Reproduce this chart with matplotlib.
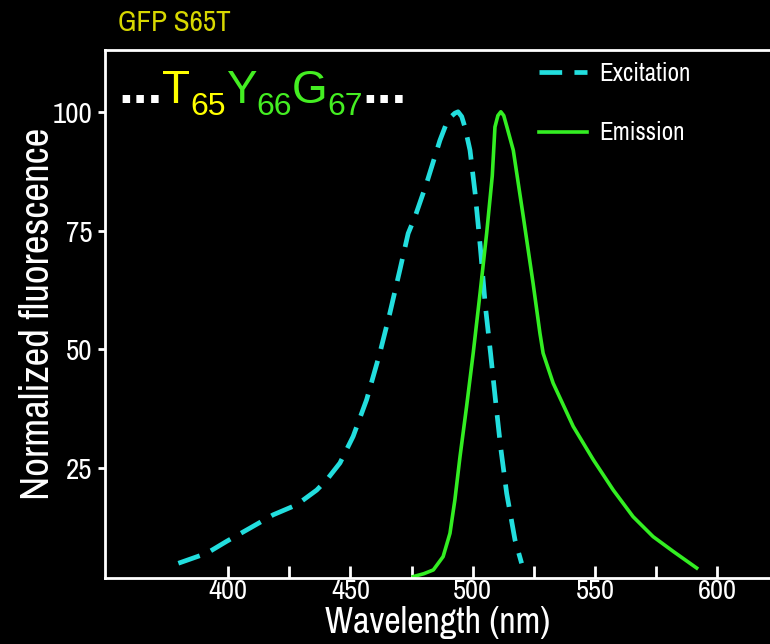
import matplotlib
matplotlib.use("Agg")
import matplotlib.pyplot as plt

NARROW = ["Archivo Narrow", "Roboto Condensed", "Liberation Sans"]
plt.rcParams["font.family"] = NARROW

# GFP S65T spectra, normalized to 100
ex_wl = [379.6, 391.2, 399.3, 408.9, 418.4, 428.0, 436.2, 440.2, 445.7, 451.1,
         456.6, 462.0, 466.1, 470.2, 473.6, 476.4, 481.1, 486.6, 489.3, 491.0,
         492.7, 494.0, 495.5, 496.8, 498.9, 501.0, 503.1, 505.2, 507.3, 509.3,
         511.4, 513.9, 517.3, 520.0]
ex_val = [5.0, 7.1, 9.6, 12.4, 15.2, 17.3, 20.4, 22.5, 26.1, 31.7,
          39.4, 49.2, 57.6, 66.7, 74.4, 77.9, 84.9, 94.0, 97.6, 98.9,
          99.7, 100.0, 99.0, 96.8, 91.9, 82.8, 71.6, 59.0, 49.2, 39.4,
          29.5, 19.7, 9.9, 5.0]

em_wl = [475.7, 480.0, 483.9, 487.9, 490.7, 492.7, 494.8, 497.5, 500.2, 503.0,
         505.7, 508.0, 509.1, 510.3, 511.5, 512.7, 514.0, 516.6, 520.7, 524.7,
         527.5, 528.8, 532.9, 541.1, 549.3, 557.5, 565.6, 573.8, 582.0, 591.6]
em_val = [2.2, 2.8, 3.6, 6.4, 11.3, 18.3, 27.4, 38.0, 49.2, 61.8,
          74.4, 86.5, 96.8, 99.2, 100.0, 99.2, 96.8, 91.9, 77.9, 63.9,
          53.4, 49.2, 42.9, 33.8, 26.8, 20.4, 14.8, 10.6, 7.5, 4.0]

x_ticks = [400, 425, 450, 475, 500, 525, 550, 575, 600]
x_labels = ["400", "", "450", "", "500", "", "550", "", "600"]
y_ticks = [25, 50, 75, 100]

# chromophore tripeptide: (text, colour, size, is_subscript)
seq_parts = [("...", "white", 38, False),
             ("T", "#ffff00", 33, False), ("65", "#ffff00", 23, True),
             ("Y", "#44ee22", 33, False), ("66", "#44ee22", 23, True),
             ("G", "#44ee22", 33, False), ("67", "#44ee22", 23, True),
             ("...", "white", 38, False)]

fig = plt.figure(figsize=(7.7, 6.44), dpi=100, facecolor="black")
ax = fig.add_axes([105 / 770, 1 - 578 / 644, 1 - 105 / 770, (578 - 50) / 644])
ax.set_facecolor("black")

ax.plot(ex_wl, ex_val, color="#22dede", lw=3.4, ls=(0, (4.8, 2.6)), label="Excitation")
ax.plot(em_wl, em_val, color="#33ee22", lw=2.6, label="Emission")

ax.set_xlim(349.6, 621.6)
ax.set_ylim(1.9, 113.0)

for side in ["left", "bottom", "top"]:
    ax.spines[side].set_color("white")
    ax.spines[side].set_linewidth(2)
ax.spines["right"].set_visible(False)

ax.set_xticks(x_ticks)
ax.set_xticklabels(x_labels)
ax.set_yticks(y_ticks)
ax.tick_params(axis="x", direction="in", length=9, width=2, color="white",
               labelcolor="white", labelsize=20.5, pad=1)
ax.tick_params(axis="y", direction="out", length=5, width=2, color="white",
               labelcolor="white", labelsize=21, pad=4)

ax.set_xlabel("Wavelength (nm)", color="white", fontsize=26, labelpad=1)
ax.set_ylabel("Normalized fluorescence", color="white", fontsize=29.5, labelpad=-2)

leg = ax.legend(loc="upper left", bbox_to_anchor=(0.635, 1.0), frameon=False,
                fontsize=18, handlelength=1.9, handletextpad=0.5, labelspacing=1.45,
                borderaxespad=0.08)
for t in leg.get_texts():
    t.set_color("white")

fig.text(118 / 770, 1 - 31 / 644, "GFP S65T", color="#d8d800", fontsize=21)

# lay out the sequence piece by piece
renderer = fig.canvas.get_renderer()
x = 118 / 770
base = 1 - 103 / 644
drop = 12 / 644
for s, c, size, sub in seq_parts:
    weight = "bold" if s == "..." else "normal"
    t = fig.text(x, base - (drop if sub else 0), s, color=c, fontsize=size,
                 fontweight=weight, va="baseline", family=["Liberation Sans"])
    bb = t.get_window_extent(renderer)
    x = fig.transFigure.inverted().transform((bb.x1, bb.y0))[0]

fig.savefig("out.png", dpi=100, facecolor="black")
